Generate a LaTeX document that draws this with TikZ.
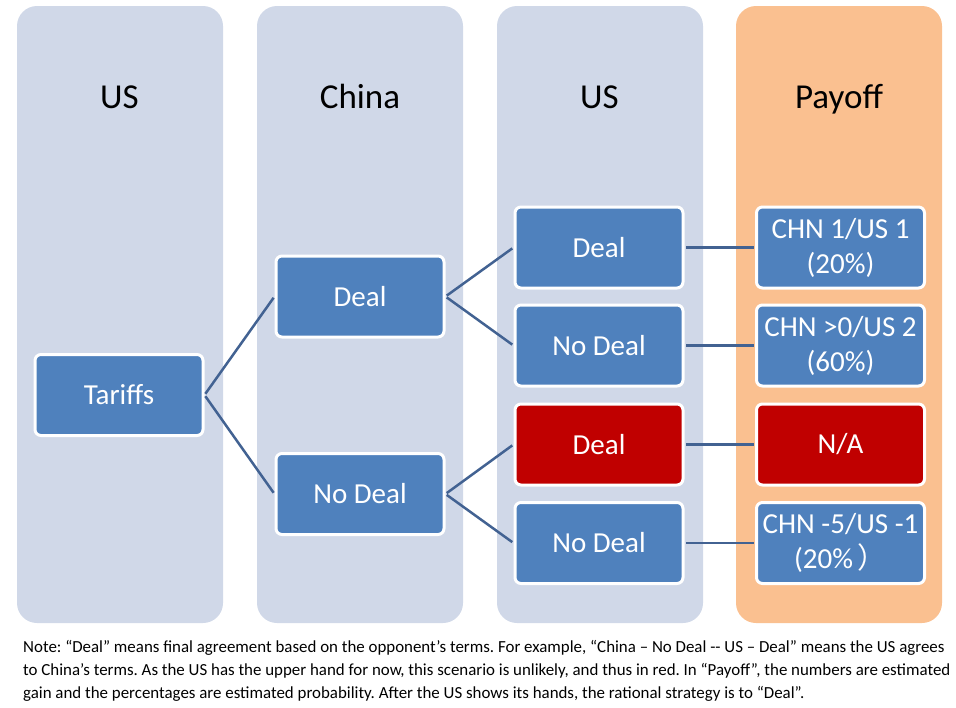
\documentclass[tikz,border=0pt]{standalone}
\usepackage{fontspec}
\setmainfont{Carlito}
\newfontfamily\cjk{Noto Sans CJK SC}
\usetikzlibrary{positioning}

\definecolor{laneblue}{RGB}{208,216,232}
\definecolor{laneorange}{RGB}{250,192,144}
\definecolor{boxblue}{RGB}{79,129,189}
\definecolor{boxred}{RGB}{192,0,0}
\definecolor{linkblue}{RGB}{66,98,146}

\begin{document}
\frenchspacing
\begin{tikzpicture}[x=1pt,y=-1pt,
  lane/.style={rounded corners=20pt},
  title/.style={anchor=base, font=\fontsize{35}{42}\selectfont},
  choice/.style={draw=white, line width=3pt, fill=boxblue, rounded corners=6pt,
    minimum width=168pt, minimum height=81pt, inner sep=0pt, align=center,
    text=white, font=\fontsize{29}{35}\selectfont},
  link/.style={draw=linkblue, line width=2.5pt}]
\useasboundingbox (0,0) rectangle (956,707);

% columns
\foreach \x/\c in {17/laneblue, 257/laneblue, 497/laneblue, 736/laneorange}
{
	\fill[lane, \c] (\x,6) rectangle (\x+206,623);
}

\path (119.5,108) node[title] (tUSa) {US};
\path (360,108) node[title] (tChina) {China};
\path (599.5,108) node[title] (tUSb) {US};
\path (839,108) node[title] (tPayoff) {Payoff};

% decision tree
\node[choice] (tariffs) at (119,395) {Tariffs};
\node[choice] (cDeal) at (360,296.5) {Deal};
\node[choice] (cNoDeal) at (360,494) {No Deal};
\node[choice] (uDealA) at (599,247.5) {Deal};
\node[choice] (uNoDealA) at (599,345.5) {No Deal};
\node[choice, fill=boxred] (uDealB) at (599,444.5) {Deal};
\node[choice] (uNoDealB) at (599,543) {No Deal};

\node[choice] (payA) at (840.5,247.5) {CHN 1/US 1\\(20\%)};
\node[choice] (payB) at (840.5,345.5) {CHN >0/US 2\\(60\%)};
\node[choice, fill=boxred] (payC) at (840.5,444.5) {N/A};
\node[choice] (payD) at (840.5,543) {CHN -5/US -1\\(20\%\,{\cjk ）}};

\foreach \a/\b in {tariffs/cDeal, tariffs/cNoDeal, cDeal/uDealA, cDeal/uNoDealA,
  cNoDeal/uDealB, cNoDeal/uNoDealB, uDealA/payA, uNoDealA/payB, uDealB/payC, uNoDealB/payD}
{
	\draw[link, shorten <=1.5pt, shorten >=1.5pt] (\a.east) -- (\b.west);
}

% note
\node[anchor=north west, align=left, inner sep=0pt, font=\fontsize{16.9}{23}\selectfont] (note) at (23,640)
{Note: “Deal” means final agreement based on the opponent’s terms. For example, “China – No Deal -{}- US – Deal” means the US agrees\\
to China’s terms. As the US has the upper hand for now, this scenario is unlikely, and thus in red. In “Payoff”, the numbers are estimated\\
gain and the percentages are estimated probability. After the US shows its hands, the rational strategy is to “Deal”.};

\end{tikzpicture}
\end{document}
